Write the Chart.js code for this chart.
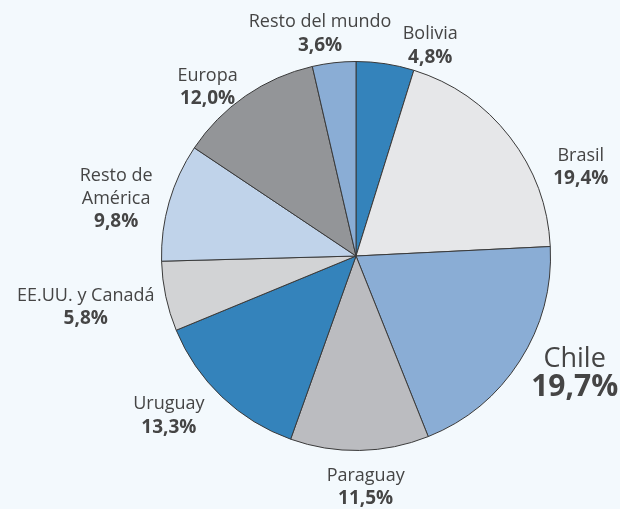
<!DOCTYPE html>
<html>
<head>
<meta charset="utf-8">
<script src="https://cdn.jsdelivr.net/npm/chart.js@4"></script>
<style>
  html, body { margin: 0; padding: 0; background: #f3f9fd; }
  #wrap { width: 620px; height: 509px; }
</style>
</head>
<body>
<div id="wrap"><canvas id="chart" width="620" height="509"></canvas></div>
<script>
// Share by destination, clockwise from the top
const regions = ["Bolivia", "Brasil", "Chile", "Paraguay", "Uruguay",
    "EE.UU. y Canadá", "Resto de América", "Europa", "Resto del mundo"];
const shares = [4.8, 19.4, 19.7, 11.5, 13.3, 5.8, 9.8, 12.0, 3.6];
const shareLabels = ["4,8%", "19,4%", "19,7%", "11,5%", "13,3%", "5,8%", "9,8%", "12,0%", "3,6%"];

const sliceColors = [
    "#3483bb", // Bolivia
    "#e6e7e9", // Brasil
    "#8aadd5", // Chile
    "#bbbcc0", // Paraguay
    "#3483bb", // Uruguay
    "#d2d3d5", // EE.UU. y Canadá
    "#c0d3ea", // Resto de América
    "#939598", // Europa
    "#8aadd5"  // Resto del mundo
];

// label block offset from the outer middle point of each slice
const labelOffsets = [[45, -18], [71, 30], [55, 12], [6, 37], [-53, 19],
    [-80, 11], [-53, -3], [-38, -9], [-14, -29]];

const FONT = "'Open Sans', sans-serif";
const TEXT = "#454545";

const background = {
    id: 'background',
    beforeDraw(chart) {
        const ctx = chart.ctx;
        ctx.save();
        ctx.fillStyle = "#f3f9fd";
        ctx.fillRect(0, 0, chart.width, chart.height);
        ctx.restore();
    }
};

const sliceLabels = {
    id: 'sliceLabels',
    afterDraw(chart) {
        const ctx = chart.ctx;
        const arcs = chart.getDatasetMeta(0).data;
        ctx.save();
        ctx.fillStyle = TEXT;
        ctx.textAlign = 'center';
        ctx.textBaseline = 'middle';
        arcs.forEach((arc, i) => {
            const mid = (arc.startAngle + arc.endAngle) / 2;
            const px = arc.x + Math.cos(mid) * arc.outerRadius + labelOffsets[i][0];
            const py = arc.y + Math.sin(mid) * arc.outerRadius + labelOffsets[i][1];
            const big = regions[i] === "Chile";
            // "Resto de América" is split over two lines
            const nameLines = regions[i] === "Resto de América" ? ["Resto de", "América"] : [regions[i]];
            const lineH = big ? 28 : 23;
            const lines = nameLines.length + 1;
            let y = py - (lines - 1) * lineH / 2;
            ctx.font = (big ? "27px " : "18px ") + FONT;
            nameLines.forEach(t => { ctx.fillText(t, px, y); y += lineH; });
            ctx.font = "bold " + (big ? "30px " : "19px ") + FONT;
            ctx.fillText(shareLabels[i], px, y);
        });
        ctx.restore();
    }
};

new Chart(document.getElementById('chart').getContext('2d'), {
    type: 'pie',
    data: {
        labels: regions,
        datasets: [{
            data: shares,
            backgroundColor: sliceColors,
            borderColor: "#3a3a3a",
            borderWidth: 1
        }]
    },
    options: {
        responsive: false,
        animation: false,
        layout: { padding: { left: 161, right: 69, top: 61, bottom: 58 } },
        plugins: {
            legend: { display: false },
            tooltip: { enabled: false }
        }
    },
    plugins: [background, sliceLabels]
});
</script>
</body>
</html>
